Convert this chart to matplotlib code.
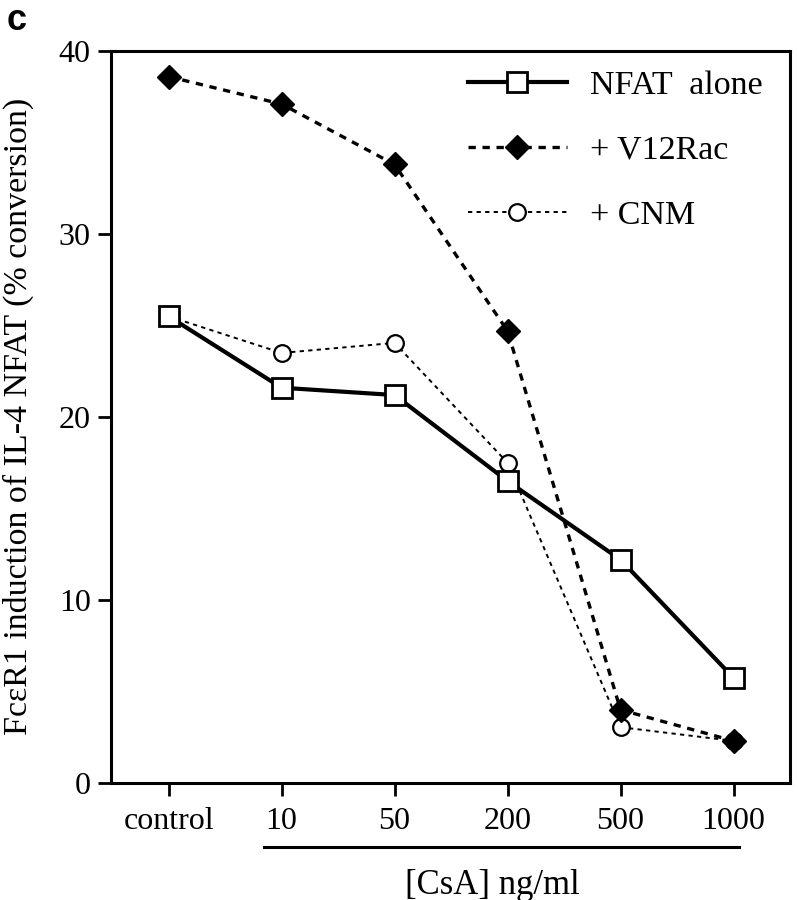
import matplotlib
matplotlib.use("Agg")
import matplotlib.pyplot as plt
from matplotlib.lines import Line2D

plt.rcParams['font.family'] = ['Liberation Serif', 'DejaVu Serif']

categories = ["control", "10", "50", "200", "500", "1000"]
nfat_alone = [25.5, 21.6, 21.2, 16.5, 12.2, 5.75]
v12rac = [38.6, 37.1, 33.8, 24.7, 4.0, 2.3]
cnm = [25.5, 23.5, 24.05, 17.5, 3.05, 2.3]
yticks = [0, 10, 20, 30, 40]

fig = plt.figure(figsize=(7.98, 9.0), dpi=100)
ax = fig.add_axes([111/798, 117/900, (790-111)/798, (783-51)/900])

x = list(range(len(categories)))

l_cnm, = ax.plot(x, cnm, color='black', lw=1.4, linestyle=(0, (2.2, 2.2)),
                 marker='o', ms=12, mfc='white', mec='black', mew=1.6,
                 label='+ CNM', zorder=3, clip_on=False)
l_v12, = ax.plot(x, v12rac, color='black', lw=2.4, linestyle=(0, (2.2, 2.0)),
                 marker='D', ms=12, mfc='black', mec='black', mew=1,
                 label='+ V12Rac', zorder=4, clip_on=False)
l_nfat, = ax.plot(x, nfat_alone, color='black', lw=3.0, linestyle='-',
                  marker='s', ms=15, mfc='white', mec='black', mew=2,
                  label='NFAT  alone', zorder=5, clip_on=False)

ax.set_xlim(-0.51, 5.5)
ax.set_ylim(0, 40)
ax.set_xticks(x)
ax.set_xticklabels(categories)
ax.set_yticks(yticks)
ax.set_yticklabels([str(v) for v in yticks])

for s in ax.spines.values():
    s.set_linewidth(2.2)
ax.tick_params(axis='both', direction='out', length=9.5, width=2.0,
               labelsize=23, color='black')
ax.tick_params(axis='x', pad=8)
ax.tick_params(axis='y', pad=5)

leg = ax.legend(handles=[l_nfat, l_v12, l_cnm], loc='upper left',
                bbox_to_anchor=(468/798, 1 - 70/900), bbox_transform=fig.transFigure,
                frameon=False, fontsize=24.5, handlelength=2.9, handletextpad=0.7,
                labelspacing=1.0, borderpad=0, borderaxespad=0)

fig.text(18/798, 0.537, "FcεR1 induction of IL-4 NFAT (% conversion)",
         rotation=90, ha='center', va='center', fontsize=24.5)
fig.add_artist(Line2D([264/798, 739/798], [1 - 847/900, 1 - 847/900],
                      color='black', lw=2.2, transform=fig.transFigure))
fig.text(492/798, 1 - 885/900, "[CsA] ng/ml", ha='center', va='center', fontsize=25)
fig.text(7/798, 1 - 3/900, "c", ha='left', va='top', fontsize=26,
         fontweight='bold', family='Liberation Sans')

fig.savefig("out.png", dpi=100)
